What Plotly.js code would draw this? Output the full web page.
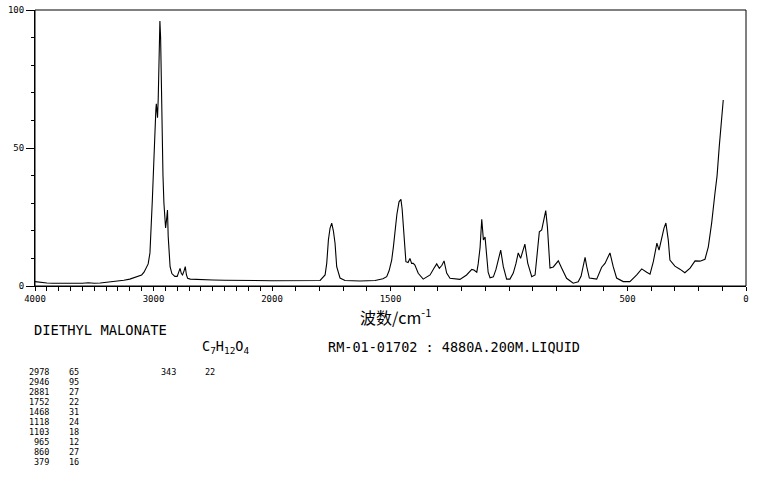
<!DOCTYPE html>
<html>
<head>
<meta charset="utf-8">
<script src="https://cdn.plot.ly/plotly-3.0.1.min.js"></script>
<style>html,body{margin:0;padding:0;background:#fff;}#chart{width:761px;height:477px;}</style>
</head>
<body>
<div id="chart"></div>
<script>
// Raman spectrum of diethyl malonate: wavenumber (cm-1) and relative intensity
const wavenumber = [
  4000,3950,3900,3850,3800,3750,3700,3650,3600,3550,3500,3450,3400,3350,3300,3250,3200,3150,3100,
  3080,3060,3045,3030,3020,3010,3000,2990,2980,2976,2972,2966,2960,2952,2946,2940,2935,2928,2920,
  2912,2905,2898,2890,2882,2876,2868,2860,2845,2820,2800,2785,2776,2765,2755,2742,2732,2722,2712,
  2690,2650,2600,2500,2400,2300,2200,2100,2000,
  1882,1797,1776,1769,1762,1755,1748,1741,1734,1727,1713,1692,1629,1565,1532,1516,1506,1495,1488,
  1481,1473,1464,1456,1451,1446,1441,1435,1426,1418,1411,1404,1397,1383,1362,1346,1333,1316,1305,
  1294,1283,1274,1263,1249,1228,1207,1179,1157,1148,1136,1130,1122,1115,1108,1101,1094,1088,1080,
  1066,1055,1045,1035,1024,1010,996,982,971,961,951,942,933,921,904,890,882,872,862,853,845,838,
  833,827,813,802,792,778,757,729,708,696,689,679,672,661,630,609,595,585,574,560,546,518,490,461,
  440,419,405,391,376,367,356,346,338,328,321,300,279,258,236,215,194,173,159,145,131,122,113,103,96
];
const intensity = [
  1.6,1.3,1.1,1.0,1.0,0.9,1.0,1.1,1.0,1.2,1.0,1.1,1.3,1.5,1.8,2.1,2.5,3.2,4.0,
  5,6.5,8,12,20,31,42,56,64,66,63,61,68,84,96,90,72,58,40,
  30,23,21,24,27.5,18,11,7,4.5,3.5,3.5,5,6.4,4.5,4,5.5,7,4,2.8,
  2.5,2.4,2.3,2.2,2.1,2.0,2.0,2.0,1.9,
  2.0,2.0,4,8.3,16.7,21,22.8,20,15.5,7,2.9,2.0,1.8,2.0,2.6,3.4,5.5,9.4,14,
  20,26,30.5,31.4,28,22.8,15,8.8,8.5,10,8.2,8.2,7.6,4.6,2.5,3.2,4,6.5,8,
  6.4,7.5,9.1,4.7,2.8,2.5,2.4,4,6,5.8,5,8,14,24.2,16.7,17.7,9.4,5,3,
  3.3,6,9.4,13,7,2.5,2.5,4.7,8,12,10,12.5,15.2,8.3,3.4,4,10,19.6,20.3,24,27.3,21.5,
  14,6.5,6.9,8,9.1,6.5,2.8,1.0,1.5,3.5,6.4,10.4,7,2.9,2.5,6.8,8.2,10,12,6.9,2.9,1.6,1.6,4,
  6.2,5,4.3,8.8,15.5,13,17.3,21,22.8,16.7,9.4,7.2,6.1,4.8,6.5,9.1,9,9.7,14.2,22.8,33.6,40,50.4,61.3,67.4
];
const xTicksHigh = [4000,3900,3800,3700,3600,3500,3400,3300,3200,3100,3000,2900,2800,2700,2600,2500,2400,2300,2200,2100,2000];
const xLabelsHigh = ["4000","3000","2000"];
const xTicksLow = [1900,1800,1700,1600,1500,1400,1300,1200,1100,1000,900,800,700,600,500,400,300,200,100,0];
const xLabelsLow = ["1500","500","0"];
const yTickLabels = ["0","50","100"];
const compoundName = "DIETHYL MALONATE";
const formula = "C<sub>7</sub>H<sub>12</sub>O<sub>4</sub>";
const sampleInfo = "RM-01-01702 : 4880A.200M.LIQUID";
const peakWn = ["2978","2946","2881","1752","1468","1118","1103","965","860","379"];
const peakInt = ["65","95","27","22","31","24","18","12","27","16"];
const peakWn2 = ["343"];
const peakInt2 = ["22"];

const hiX = [], hiY = [], loX = [], loY = [];
wavenumber.forEach((w, i) => {
  if (w >= 2000) { hiX.push(w); hiY.push(intensity[i]); }
  if (w <= 2000) { loX.push(w); loY.push(intensity[i]); }
});

const W = 761, H = 477, L = 35, R = 15, T = 10, B = 191;
const pw = W - L - R, ph = H - T - B;
const px = x => (x - L) / pw;
const py = y => (H - B - y) / ph;
const split = 237 / pw;

const mono = "DejaVu Sans Mono, monospace";
const tickFont = {family: mono, size: 9, color: "#000"};

const traces = [
  {x: hiX, y: hiY, xaxis: "x", yaxis: "y", type: "scatter", mode: "lines",
   line: {color: "#000", width: 1.1}, hoverinfo: "skip"},
  {x: loX, y: loY, xaxis: "x2", yaxis: "y", type: "scatter", mode: "lines",
   line: {color: "#000", width: 1.1}, hoverinfo: "skip"}
];

const annotations = [
  {xref: "paper", yref: "paper", x: px(395), y: py(316), text: "波数/cm<sup>-1</sup>",
   showarrow: false, xanchor: "center", yanchor: "middle",
   font: {family: "Noto Sans CJK SC", size: 16, color: "#000"}},
  {xref: "paper", yref: "paper", x: px(32), y: py(330), text: compoundName,
   showarrow: false, xanchor: "left", yanchor: "middle", font: {family: mono, size: 13.8, color: "#000"}},
  {xref: "paper", yref: "paper", x: px(200), y: py(347), text: formula,
   showarrow: false, xanchor: "left", yanchor: "middle", font: {family: mono, size: 13.5, color: "#000"}},
  {xref: "paper", yref: "paper", x: px(326), y: py(347), text: sampleInfo,
   showarrow: false, xanchor: "left", yanchor: "middle", font: {family: mono, size: 13.5, color: "#000"}}
];
peakWn.forEach((w, i) => {
  const yy = py(372 + i * 10);
  annotations.push({xref: "paper", yref: "paper", x: px(51), y: yy, text: w, showarrow: false,
    xanchor: "right", yanchor: "middle", font: {family: mono, size: 8.5, color: "#000"}});
  annotations.push({xref: "paper", yref: "paper", x: px(81), y: yy, text: peakInt[i], showarrow: false,
    xanchor: "right", yanchor: "middle", font: {family: mono, size: 8.5, color: "#000"}});
});
peakWn2.forEach((w, i) => {
  const yy = py(372 + i * 10);
  annotations.push({xref: "paper", yref: "paper", x: px(178), y: yy, text: w, showarrow: false,
    xanchor: "right", yanchor: "middle", font: {family: mono, size: 8.5, color: "#000"}});
  annotations.push({xref: "paper", yref: "paper", x: px(217), y: yy, text: peakInt2[i], showarrow: false,
    xanchor: "right", yanchor: "middle", font: {family: mono, size: 8.5, color: "#000"}});
});

const layout = {
  width: W, height: H,
  margin: {l: L, r: R, t: T, b: B},
  paper_bgcolor: "#fff", plot_bgcolor: "#fff",
  showlegend: false,
  xaxis: {domain: [0, split], range: [4000, 2000], anchor: "y",
    tickmode: "array", tickvals: xTicksHigh,
    ticktext: xTicksHigh.map(v => xLabelsHigh.includes(String(v)) ? String(v) : ""),
    ticks: "outside", ticklen: 4, tickwidth: 1, tickcolor: "#000",
    showgrid: false, zeroline: false, showline: true, linecolor: "#000", linewidth: 1,
    tickfont: tickFont, fixedrange: true},
  xaxis2: {domain: [split, 1], range: [2000, 0], anchor: "y",
    tickmode: "array", tickvals: xTicksLow,
    ticktext: xTicksLow.map(v => xLabelsLow.includes(String(v)) ? String(v) : ""),
    ticks: "outside", ticklen: 4, tickwidth: 1, tickcolor: "#000",
    showgrid: false, zeroline: false, showline: true, linecolor: "#000", linewidth: 1,
    tickfont: tickFont, fixedrange: true},
  yaxis: {range: [0, 100], anchor: "x",
    tickmode: "array", tickvals: [0, 50, 100], ticktext: yTickLabels,
    ticks: "outside", ticklen: 8, tickwidth: 1, tickcolor: "#000",
    minor: {tickmode: "linear", tick0: 0, dtick: 10, ticks: "outside", ticklen: 3, tickcolor: "#000", showgrid: false},
    showgrid: false, zeroline: false, showline: true, linecolor: "#000", linewidth: 1,
    tickfont: tickFont, fixedrange: true},
  shapes: [{type: "rect", xref: "paper", yref: "paper", x0: 0, x1: 1, y0: 0, y1: 1,
    line: {color: "#000", width: 1}, fillcolor: "rgba(0,0,0,0)", layer: "above"}],
  annotations: annotations
};

Plotly.newPlot("chart", traces, layout, {displayModeBar: false, staticPlot: true});
</script>
</body>
</html>
